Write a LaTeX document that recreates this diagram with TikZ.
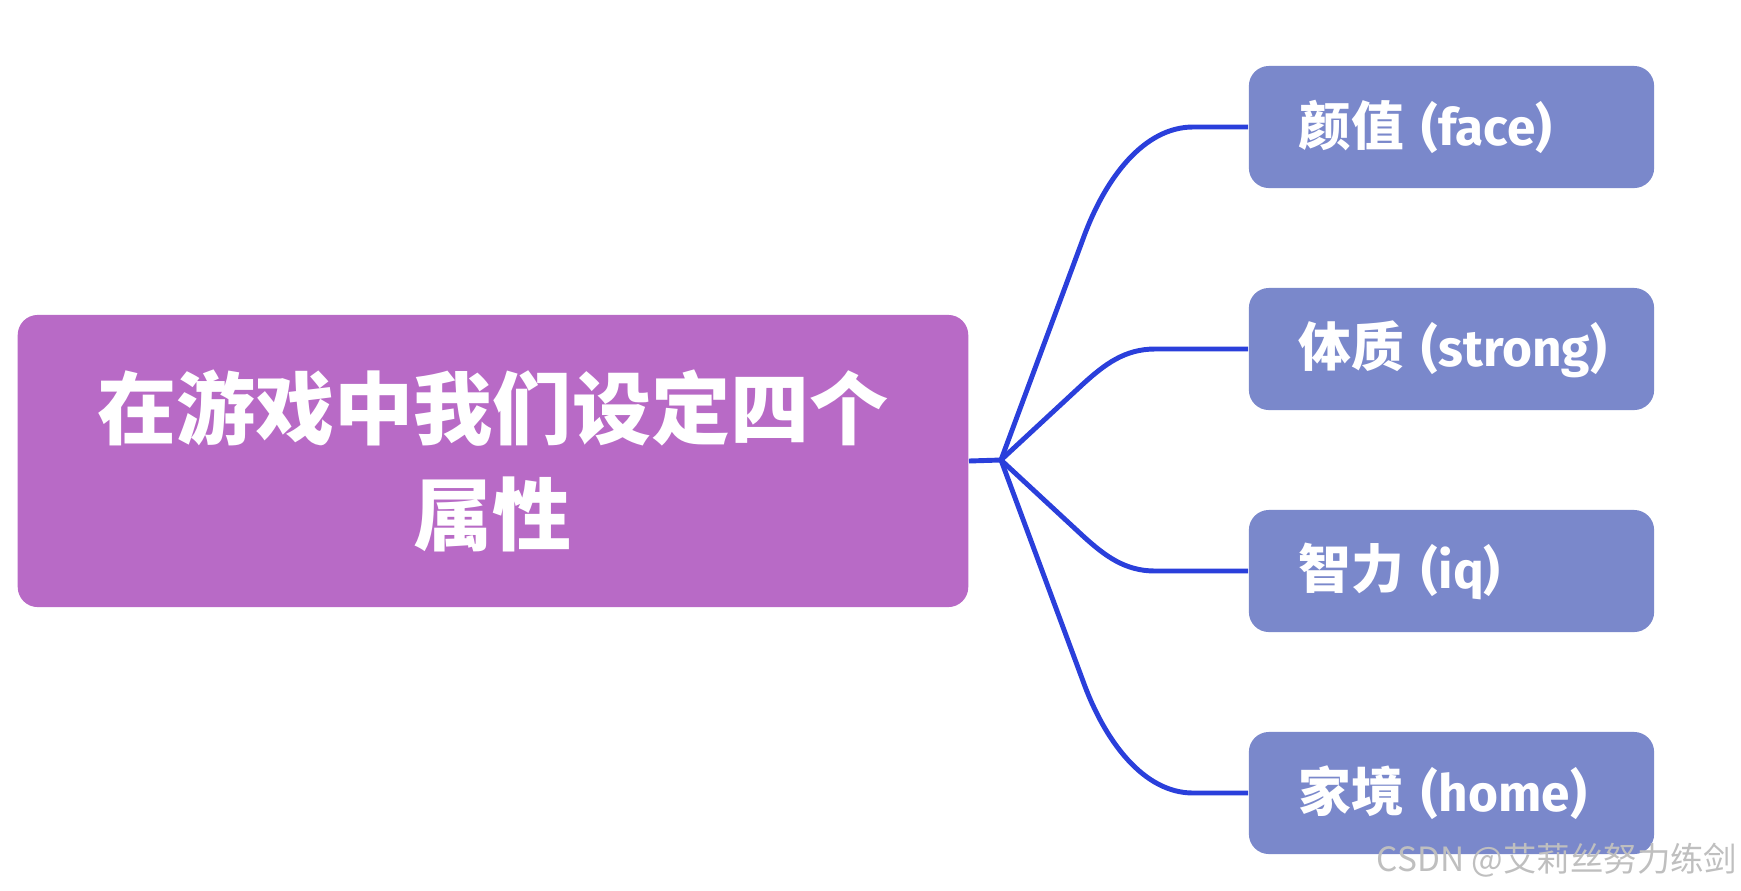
\documentclass[tikz,border=0pt]{standalone}
\usepackage{fontspec}
\setmainfont{Noto Sans CJK SC}
\newfontfamily\latinfont{Fira Sans}
\usepackage{tikz}
\usetikzlibrary{positioning}

\definecolor{rootpurple}{HTML}{B86AC6}
\definecolor{leafblue}{HTML}{7A88CB}
\definecolor{linkblue}{HTML}{2A3FDB}

\newcommand{\en}[1]{{\latinfont\bfseries\fontsize{14.6}{18}\selectfont #1}}

\begin{document}
\begin{tikzpicture}[x=0.01cm, y=-0.01cm,
    root/.style={rectangle, fill=rootpurple, minimum width=9.5cm, minimum height=2.92cm, rounded corners=0.2cm, text=white, align=center, font=\fontsize{22.5}{30}\selectfont\bfseries},
    leaf/.style={rectangle, fill=leafblue, minimum width=4.05cm, minimum height=1.22cm, text width=3.05cm, inner xsep=0.5cm, rounded corners=0.2cm, text=white, align=left, font=\fontsize{15}{18}\selectfont\bfseries},
    branch/.style={draw=linkblue, line width=1.4pt},
    watermark/.style={text=black!25, inner sep=0pt, font=\fontsize{9.5}{11}\selectfont}
]
\useasboundingbox (0,0) rectangle (1741,890);

% Root node (left)
\node[root] (attr) at (493,461) {在游戏中我们设定四个\\属性};

% Leaf nodes (right)
\node[leaf] (face) at (1451.5,127) {\mbox{颜值 \en{(face)}}};
\node[leaf] (strong) at (1451.5,349) {\mbox{体质 \en{(strong)}}};
\node[leaf] (iq) at (1451.5,571) {\mbox{智力 \en{(iq)}}};
\node[leaf] (home) at (1451.5,793) {\mbox{家境 \en{(home)}}};

% Branches
\coordinate (hub) at (1001,460);
\draw[branch] (attr.east) -- (hub);
\draw[branch] (hub) -- (1083,239) .. controls (1105,178) and (1144,127) .. (1193,127) -- (face.west);
\draw[branch] (hub) -- (1083,384) .. controls (1105,364) and (1125,349) .. (1155,349) -- (strong.west);
\draw[branch] (hub) -- (1083,536) .. controls (1105,556) and (1125,571) .. (1155,571) -- (iq.west);
\draw[branch] (hub) -- (1083,681) .. controls (1105,742) and (1144,793) .. (1193,793) -- (home.west);

% Watermark
\node[watermark, anchor=east] (wm) at (1738,860) {CSDN @艾莉丝努力练剑};
\end{tikzpicture}
\end{document}
